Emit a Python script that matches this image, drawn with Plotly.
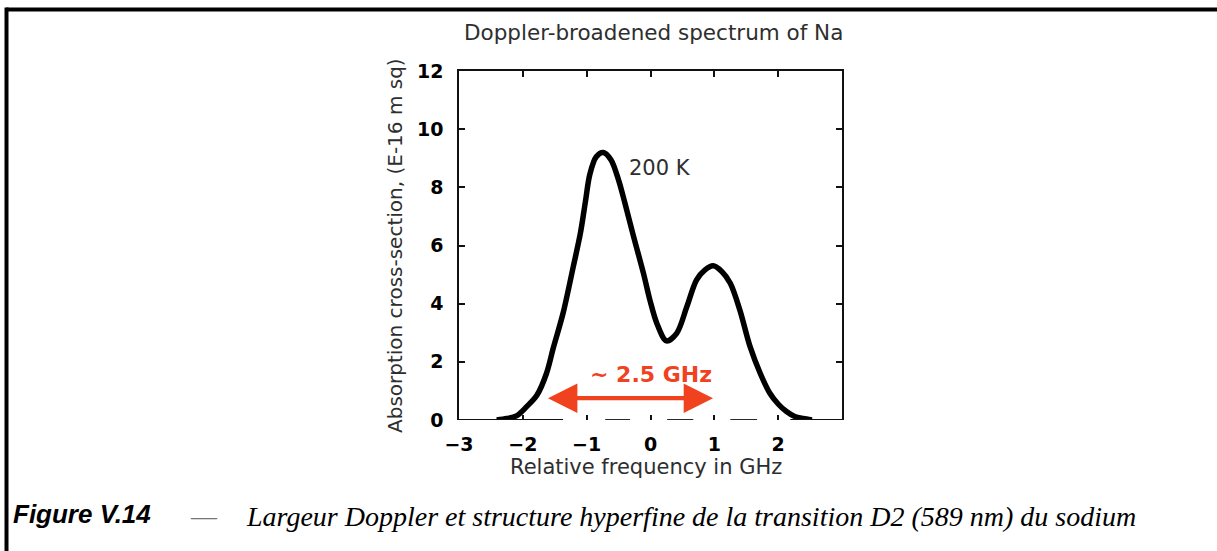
import plotly.graph_objects as go

# Doppler-broadened absorption profile of the Na D2 line at 200 K
freq_ghz = [-2.41, -2.25, -2.10, -1.94, -1.78, -1.63, -1.52, -1.37, -1.21, -1.10,
            -1.02, -0.95, -0.85, -0.74, -0.62, -0.50, -0.40, -0.27, -0.11, -0.01,
            0.10, 0.25, 0.41, 0.57, 0.72, 0.85, 0.98, 1.12, 1.25, 1.40,
            1.56, 1.72, 1.87, 2.00, 2.13, 2.26, 2.39, 2.53]
cross_section = [0.00, 0.05, 0.14, 0.46, 0.85, 1.60, 2.50, 3.67, 5.27, 6.40,
                 7.50, 8.45, 9.05, 9.20, 8.95, 8.25, 7.45, 6.35, 5.04, 4.13,
                 3.32, 2.72, 2.98, 3.90, 4.81, 5.15, 5.30, 5.10, 4.70, 3.78,
                 2.52, 1.60, 0.92, 0.55, 0.29, 0.12, 0.05, 0.00]

x_ticks = [-3, -2, -1, 0, 1, 2]
x_tick_text = ["\u22123", "\u22122", "\u22121", "0", "1", "2"]
x_top_ticks = [-2, -1, 0, 1, 2]
y_ticks = [0, 2, 4, 6, 8, 10, 12]

# width marker: from -1.63 GHz to 0.98 GHz, drawn at 0.75
width_start, width_end, width_level = -1.63, 0.98, 0.75
width_label = "~ 2.5 GHz"
width_label_x, width_label_y = 0.0, 1.55
temperature_label = "200 K"

# pieces of the bottom axis line that survive in the printed figure
bottom_axis_pieces = [(-3.0, -1.37), (-0.71, -0.32), (0.26, 0.67), (1.25, 1.67), (2.19, 3.0)]

W, H = 1217, 551
L, R, T, B = 459, 842, 71, 420  # plot area in pixels


def px(xp):
    return (xp - L) / (R - L)


def py(yp):
    return (B - yp) / (B - T)


RED = "#F0421E"
TEXT = "#2e2e2e"
SANS = "DejaVu Sans"

fig = go.Figure()
fig.add_trace(go.Scatter(
    x=freq_ghz, y=cross_section, mode="lines",
    line=dict(color="black", width=5.5, shape="spline", smoothing=0.9),
    showlegend=False, hoverinfo="skip",
))
# carrier for the top axis
fig.add_trace(go.Scatter(x=[-3, 3], y=[None, None], xaxis="x2", mode="lines",
                         showlegend=False, hoverinfo="skip"))

shapes = []
for a, b in bottom_axis_pieces:
    shapes.append(dict(type="line", xref="x", yref="y", x0=a, x1=b, y0=0, y1=0,
                       line=dict(color="#111", width=1.8), layer="above"))
# page frame (top and left rules)
shapes.append(dict(type="line", xref="paper", yref="paper",
                   x0=px(6.5), x1=px(W + 5), y0=py(9.5), y1=py(9.5),
                   line=dict(color="black", width=4)))
shapes.append(dict(type="line", xref="paper", yref="paper",
                   x0=px(6.5), x1=px(6.5), y0=py(7.5), y1=py(H + 5),
                   line=dict(color="black", width=4)))

annotations = [
    dict(text="Doppler-broadened spectrum of Na", xref="paper", yref="paper",
         x=px(653), y=py(32), xanchor="center", yanchor="middle", showarrow=False,
         font=dict(family=SANS, size=21.5, color=TEXT)),
    dict(text="Relative frequency in GHz", xref="paper", yref="paper",
         x=px(646), y=py(467), xanchor="center", yanchor="middle", showarrow=False,
         font=dict(family=SANS, size=21, color=TEXT)),
    dict(text="Absorption cross-section, (E-16 m sq)", xref="paper", yref="paper",
         x=px(395), y=py(246), xanchor="center", yanchor="middle", showarrow=False,
         textangle=-90, font=dict(family=SANS, size=20, color=TEXT)),
    dict(text=temperature_label, xref="paper", yref="paper",
         x=px(627), y=py(168), xanchor="left", yanchor="middle", showarrow=False,
         font=dict(family=SANS, size=21, color=TEXT)),
    dict(text=width_label, xref="x", yref="y",
         x=width_label_x, y=width_label_y, xanchor="center", yanchor="middle",
         showarrow=False, font=dict(family=SANS, size=22, color=RED, weight="bold")),
    # double-headed width arrow
    dict(x=width_end, y=width_level, ax=width_start, ay=width_level,
         xref="x", yref="y", axref="x", ayref="y", text="", showarrow=True,
         arrowhead=2, startarrowhead=2, arrowside="end+start",
         arrowsize=1.4, startarrowsize=1.4, arrowwidth=4.2, arrowcolor=RED),
    # caption
    dict(text="<b><i>Figure V.14</i></b>", xref="paper", yref="paper",
         x=px(11), y=py(514), xanchor="left", yanchor="middle", showarrow=False,
         font=dict(family="Liberation Sans", size=26, color="black")),
    dict(text="\u2014", xref="paper", yref="paper",
         x=px(204), y=py(516), xanchor="center", yanchor="middle", showarrow=False,
         font=dict(family="Liberation Serif", size=26, color="#777")),
    dict(text="<i>Largeur Doppler et structure hyperfine de la transition D2 (589 nm) du sodium</i>",
         xref="paper", yref="paper", x=px(244), y=py(516), xanchor="left", yanchor="middle",
         showarrow=False, font=dict(family="Liberation Serif", size=28, color="black")),
]

fig.update_layout(
    width=W, height=H,
    margin=dict(l=L, r=W - R, t=T, b=H - B, pad=0),
    paper_bgcolor="white", plot_bgcolor="white",
    shapes=shapes, annotations=annotations,
    xaxis=dict(range=[-3, 3], tickvals=x_ticks, ticktext=x_tick_text,
               ticks="inside", ticklen=5, tickwidth=1.5, tickcolor="#111",
               showline=False, showgrid=False, zeroline=False,
               ticklabelstandoff=11,
               tickfont=dict(family=SANS, size=19, color="black", weight="bold")),
    xaxis2=dict(range=[-3, 3], overlaying="x", side="top", anchor="y",
                tickvals=x_top_ticks, ticks="inside", ticklen=6, tickwidth=1.5,
                tickcolor="#111", showticklabels=False, showline=True,
                linecolor="#111", linewidth=1.5, showgrid=False, zeroline=False),
    yaxis=dict(range=[0, 12], tickvals=y_ticks,
               ticks="inside", ticklen=6, tickwidth=1.5, tickcolor="#111",
               showline=True, linecolor="#111", linewidth=1.5, mirror="ticks",
               showgrid=False, zeroline=False, ticklabelstandoff=10,
               tickfont=dict(family=SANS, size=19, color="black", weight="bold")),
)

fig.write_html("out.html")
